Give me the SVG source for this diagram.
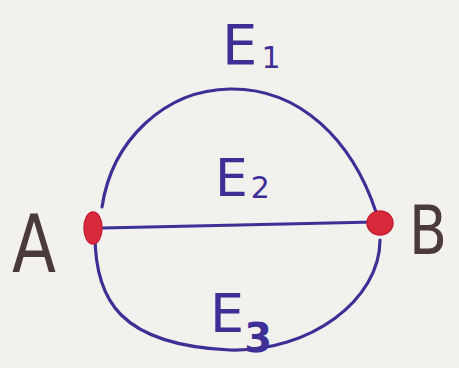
<svg xmlns="http://www.w3.org/2000/svg" width="459" height="368" viewBox="0 0 459 368">
<style>
.edge{fill:none;stroke:#3d2f96;stroke-width:3.2;stroke-linecap:round}
.lbl{font-family:"DejaVu Sans","Liberation Sans",sans-serif;fill:#3d2f96}
.sub{font-size:30px}
.node{fill:#d82a3c;stroke:#c41f33;stroke-width:1.5}
.nlbl{font-family:"DejaVu Sans","Liberation Sans",sans-serif;fill:#4a3a3c}
</style>
<rect width="459" height="368" fill="#f3f1ed"/>
<g id="connectors">
<path id="e1" class="edge" d="M 102 207 C 112 140 165 90 230 89 C 300 88 352 140 376 212"/>
<path id="e2" class="edge" d="M 103 228 L 375 222"/>
<path id="e3" class="edge" d="M 95 235 C 95 300 120 345 230 350 C 310 352 380 300 380 240"/>
</g>
<g id="edge-labels">
<text class="lbl" x="222" y="64" font-size="56">E<tspan class="sub" dx="4" dy="4">1</tspan></text>
<text class="lbl" x="215" y="196" font-size="52">E<tspan class="sub" dx="3" dy="2">2</tspan></text>
<text class="lbl" x="210" y="332" font-size="54">E<tspan font-size="40" dx="0" dy="20" font-weight="bold">3</tspan></text>
</g>
<g id="A">
<ellipse class="node" cx="93" cy="228" rx="9" ry="16"/>
<text class="nlbl" x="12" y="272" font-size="80" textLength="44" lengthAdjust="spacingAndGlyphs">A</text>
</g>
<g id="B">
<ellipse class="node" cx="380" cy="223" rx="13" ry="12"/>
<text class="nlbl" x="409" y="254" font-size="68" textLength="38" lengthAdjust="spacingAndGlyphs">B</text>
</g>
</svg>
